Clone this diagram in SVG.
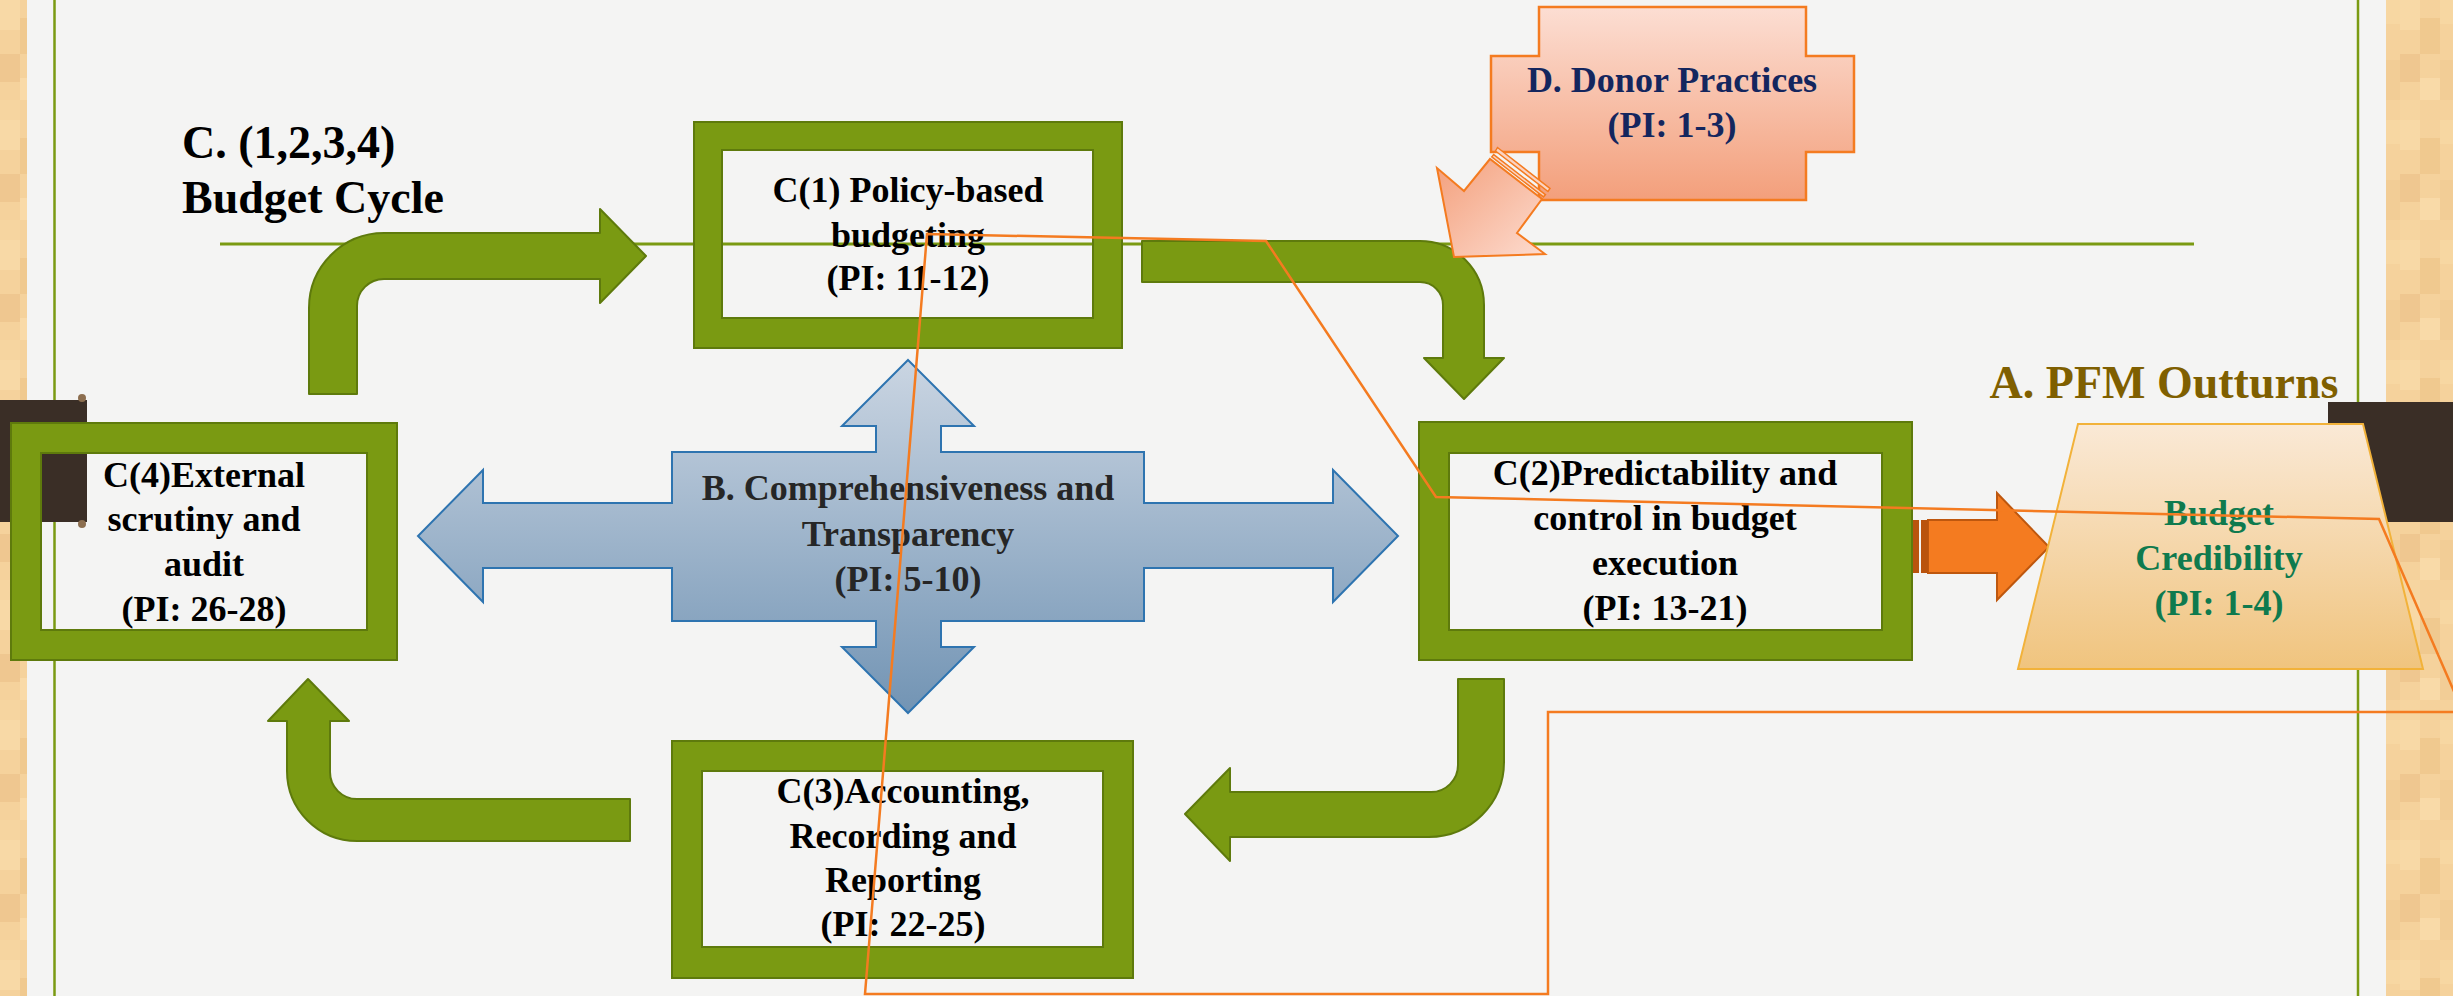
<svg xmlns="http://www.w3.org/2000/svg" width="2453" height="996" viewBox="0 0 2453 996">
<defs>
<style>
.frame{fill:#7A9A12;stroke:#5E7A0C;stroke-width:2;fill-rule:evenodd}
.bent{fill:#7A9A12;stroke:#5E7A0C;stroke-width:2;stroke-linejoin:round}
.lbl{font-family:"Liberation Serif","Times New Roman",serif;font-weight:bold;font-size:36px;text-anchor:middle}
.big{font-family:"Liberation Serif","Times New Roman",serif;font-weight:bold;font-size:46px}
.gl{stroke:#7A9A12;fill:none}
.dark{fill:#3A2E26}
</style>
<pattern id="wood" patternUnits="userSpaceOnUse" width="60" height="120">
<rect width="60" height="120" fill="#F5D29C"/>
<rect x="0" y="0" width="20" height="30" fill="#F8D9A6"/>
<rect x="20" y="18" width="20" height="36" fill="#F0C98F"/>
<rect x="40" y="0" width="20" height="24" fill="#F7D7A2"/>
<rect x="0" y="54" width="20" height="28" fill="#EFC790"/>
<rect x="20" y="78" width="20" height="22" fill="#F9DAA8"/>
<rect x="40" y="60" width="20" height="40" fill="#F2CD96"/>
<rect x="0" y="100" width="20" height="20" fill="#F6D5A0"/>
</pattern>
<linearGradient id="gBlue" x1="0" y1="0" x2="0" y2="1">
<stop offset="0" stop-color="#CAD5E2"/>
<stop offset="1" stop-color="#7294B4"/>
</linearGradient>
<linearGradient id="gCross" x1="0" y1="0" x2="0" y2="1">
<stop offset="0" stop-color="#FCDED3"/>
<stop offset="1" stop-color="#F39F7B"/>
</linearGradient>
<linearGradient id="gDonorArrow" x1="0" y1="0" x2="1" y2="1">
<stop offset="0" stop-color="#F39F7B"/>
<stop offset="1" stop-color="#FDDCD0"/>
</linearGradient>
<linearGradient id="gTrap" x1="0" y1="0" x2="0" y2="1">
<stop offset="0" stop-color="#FAE9D6"/>
<stop offset="1" stop-color="#F0C47E"/>
</linearGradient>
</defs>

<g id="background">
<rect x="0" y="0" width="2453" height="996" fill="#F4F4F3"/>
<rect x="0" y="0" width="27" height="996" fill="url(#wood)"/>
<rect x="2386" y="0" width="67" height="996" fill="url(#wood)"/>
<line class="gl" x1="54.5" y1="0" x2="54.5" y2="996" stroke-width="2.5"/>
<line class="gl" x1="2358" y1="0" x2="2358" y2="996" stroke-width="2.5"/>
<line class="gl" x1="220" y1="244" x2="2194" y2="244" stroke-width="3"/>
<rect class="dark" x="0" y="400" width="87" height="122"/>
<circle cx="82" cy="398" r="4" fill="#8C6E4F"/>
<circle cx="82" cy="524" r="4" fill="#8C6E4F"/>
<rect class="dark" x="2328" y="402" width="125" height="120"/>
</g>

<g id="title">
<text class="big" x="182" y="158" fill="#000">C. (1,2,3,4)</text>
<text class="big" x="182" y="213" fill="#000">Budget Cycle</text>
</g>

<g id="connectors">
<path id="arrow-c4-c1" class="bent" d="M309 394 L309 308 A75 75 0 0 1 384 233 L600 233 L600 209 L646 256 L600 303 L600 279 L384 279 A27 27 0 0 0 357 306 L357 394 Z"/>
<path id="arrow-c1-c2" class="bent" d="M1142 241 L1420 241 A64 64 0 0 1 1484 305 L1484 358 L1504 358 L1464 399 L1424 358 L1443 358 L1443 305 A23 23 0 0 0 1420 282 L1142 282 Z"/>
<path id="arrow-c2-c3" class="bent" d="M1458 679 L1504 679 L1504 762 A75 75 0 0 1 1429 837 L1230 837 L1230 861 L1185 814 L1230 768 L1230 792 L1431 792 A27 27 0 0 0 1458 765 Z"/>
<path id="arrow-c3-c4" class="bent" d="M630 799 L630 841 L357 841 A70 70 0 0 1 287 771 L287 721 L268 721 L308 679 L349 721 L330 721 L330 772 A27 27 0 0 0 357 799 Z"/>
<g id="arrow-c2-a">
<path d="M1928 520 H1997 V493 L2049 547 L1997 600 V573 H1928 Z" fill="#F47B20" stroke="#BE570E" stroke-width="2"/>
<rect x="1910" y="520" width="9" height="53" fill="#B9530D"/>
<rect x="1921" y="520" width="7" height="53" fill="#B9530D"/>
</g>
</g>

<g id="node-c1">
<path class="frame" d="M694 122 H1122 V348 H694 Z M722 150 V318 H1093 V150 Z"/>
<text class="lbl" x="908" y="202">C(1) Policy-based</text>
<text class="lbl" x="908" y="247">budgeting</text>
<text class="lbl" x="908" y="290">(PI: 11-12)</text>
</g>

<g id="node-c2">
<path class="frame" d="M1419 422 H1912 V660 H1419 Z M1449 453 V630 H1882 V453 Z"/>
<text class="lbl" x="1665" y="485">C(2)Predictability and</text>
<text class="lbl" x="1665" y="530">control in budget</text>
<text class="lbl" x="1665" y="575">execution</text>
<text class="lbl" x="1665" y="620">(PI: 13-21)</text>
</g>

<g id="node-c3">
<path class="frame" d="M672 741 H1133 V978 H672 Z M702 771 V947 H1103 V771 Z"/>
<text class="lbl" x="903" y="803">C(3)Accounting,</text>
<text class="lbl" x="903" y="848">Recording and</text>
<text class="lbl" x="903" y="892">Reporting</text>
<text class="lbl" x="903" y="936">(PI: 22-25)</text>
</g>

<g id="node-c4">
<path class="frame" d="M11 423 H397 V660 H11 Z M41 453 V630 H367 V453 Z"/>
<text class="lbl" x="204" y="487">C(4)External</text>
<text class="lbl" x="204" y="531">scrutiny and</text>
<text class="lbl" x="204" y="576">audit</text>
<text class="lbl" x="204" y="621">(PI: 26-28)</text>
</g>

<g id="node-b">
<path d="M908 360 L974 426 L941 426 L941 452 L1144 452 L1144 503 L1333 503 L1333 470 L1398 536 L1333 602 L1333 568 L1144 568 L1144 621 L941 621 L941 647 L974 647 L908 713 L842 647 L876 647 L876 621 L672 621 L672 568 L483 568 L483 602 L418 536 L483 470 L483 503 L672 503 L672 452 L876 452 L876 426 L842 426 Z" fill="url(#gBlue)" stroke="#2E74B0" stroke-width="2" stroke-linejoin="miter"/>
<text class="lbl" x="908" y="500" fill="#262626">B. Comprehensiveness and</text>
<text class="lbl" x="908" y="546" fill="#262626">Transparency</text>
<text class="lbl" x="908" y="591" fill="#262626">(PI: 5-10)</text>
</g>

<g id="node-d">
<path d="M1539 7 H1806 V56 H1854 V152 H1806 V200 H1539 V152 H1491 V56 H1539 Z" fill="url(#gCross)" stroke="#F47B20" stroke-width="2.5"/>
<text class="lbl" x="1672" y="92" fill="#14265E">D. Donor Practices</text>
<text class="lbl" x="1672" y="137" fill="#14265E">(PI: 1-3)</text>
</g>

<g id="arrow-d">
<polygon points="1437,168 1454,257 1545,254 1517,233 1542,199 1490,159 1464,191" fill="url(#gDonorArrow)" stroke="#F47B20" stroke-width="2"/>
<polygon points="1491.8,156.9 1543.5,196.9 1545.4,194.6 1493.7,154.6" fill="#FBD3C2" stroke="#F47B20" stroke-width="1.5"/>
<polygon points="1495.5,151 1548,191.5 1550,188.5 1497.5,147.5" fill="#FBD3C2" stroke="#F47B20" stroke-width="1.5"/>
</g>

<g id="node-a">
<text class="big" x="2164" y="398" fill="#7F5F00" text-anchor="middle">A. PFM Outturns</text>
<polygon points="2078,424 2363,424 2423,669 2018,669" fill="url(#gTrap)" stroke="#F2B23A" stroke-width="2"/>
<text class="lbl" x="2219" y="525" fill="#0F7A4E">Budget</text>
<text class="lbl" x="2219" y="570" fill="#0F7A4E">Credibility</text>
<text class="lbl" x="2219" y="615" fill="#0F7A4E">(PI: 1-4)</text>
</g>

<g id="overlay">
<polygon points="927,234 1266,241 1436,497 2379,519 2463,712 1548,712 1548,994 865,994" fill="none" stroke="#F47B20" stroke-width="2.5"/>
</g>
</svg>
